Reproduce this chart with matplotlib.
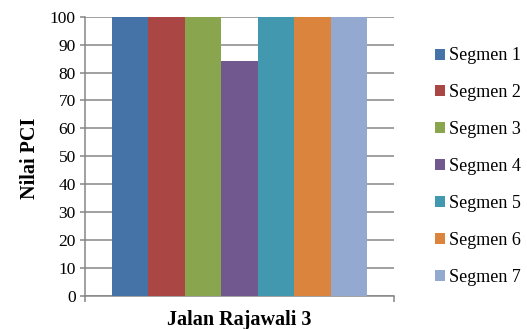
import matplotlib
matplotlib.use('Agg')
import matplotlib.pyplot as plt
from matplotlib.patches import Patch

# PCI values per segment on Jalan Rajawali 3
segments = ['Segmen 1', 'Segmen 2', 'Segmen 3', 'Segmen 4', 'Segmen 5', 'Segmen 6', 'Segmen 7']
pci = [100, 100, 100, 84, 100, 100, 100]
colours = ['#4572A7', '#AA4643', '#89A54E', '#71588F', '#4198AF', '#DB843D', '#93A9CF']
yticks = list(range(0, 101, 10))

gridColour = '#868686'
plt.rcParams['font.family'] = ['Liberation Serif', 'DejaVu Serif']

fig = plt.figure(figsize=(5.27, 3.29), dpi=100)
ax = fig.add_axes([85 / 527, 33 / 329, 309 / 527, 279.3 / 329])

pos = list(range(len(pci)))
ax.bar(pos, pci, width=1.0, color=colours, linewidth=0, zorder=3)

ax.set_ylim(0, 100)
ax.set_yticks(yticks)
ax.yaxis.grid(True, color=gridColour, linewidth=1.1, zorder=0)
ax.set_axisbelow(True)
ax.tick_params(axis='y', direction='out', length=3.6, width=1.1, color=gridColour,
               labelsize=12.5, pad=3)

gap = 0.725
ax.set_xlim(-0.5 - gap, len(pci) - 0.5 + gap)
ax.set_xticks([-0.5 - gap, len(pci) - 0.5 + gap])
ax.set_xticklabels(['', ''])
ax.tick_params(axis='x', direction='out', length=4.5, width=1.1, color=gridColour)

for side in ['top', 'right']:
    ax.spines[side].set_visible(False)
for side in ['left', 'bottom']:
    ax.spines[side].set_color(gridColour)
    ax.spines[side].set_linewidth(1.1)

ax.set_ylabel('Nilai PCI', fontsize=14.5, fontweight='bold', ha='center', va='center')
ax.yaxis.set_label_coords(-0.178, 0.494)
ax.set_xlabel('Jalan Rajawali 3', fontsize=14.5, fontweight='bold', ha='center', va='center')
ax.xaxis.set_label_coords(0.5, -0.085)

handles = [Patch(facecolor=c, edgecolor='none') for c in colours]
fig.legend(handles, segments, loc='center left', bbox_to_anchor=(435 / 527, 0.494),
           frameon=False, fontsize=13, handlelength=0.56, handleheight=0.56,
           handletextpad=0.2, labelspacing=1.1, borderpad=0, borderaxespad=0)

plt.savefig('out.png', dpi=100)
